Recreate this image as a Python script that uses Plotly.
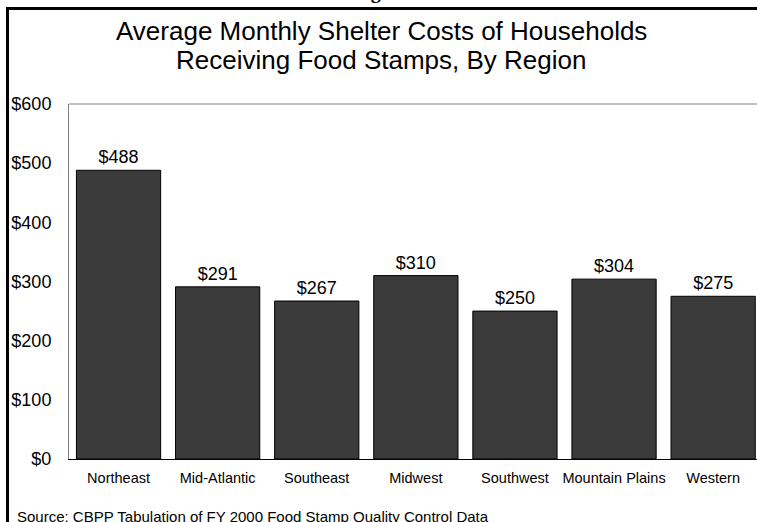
import plotly.graph_objects as go

regions = ["Northeast", "Mid-Atlantic", "Southeast", "Midwest", "Southwest", "Mountain Plains", "Western"]
costs = [488, 291, 267, 310, 250, 304, 275]
y_ticks = [0, 100, 200, 300, 400, 500, 600]
y_tick_labels = ["$0", "$100", "$200", "$300", "$400", "$500", "$600"]
bar_labels = ["$" + str(v) for v in costs]

title_lines = ["Average Monthly Shelter Costs of Households", "Receiving Food Stamps, By Region"]
source_note = "Source: CBPP Tabulation of FY 2000 Food Stamp Quality Control Data"
figure_label = "Figure 3"

W, H = 757, 522
# plot area in pixels
L, T, B = 69, 104, 459
R = W
pw, ph = R - L, B - T


def px(x):
    return (x - L) / pw


def py(y):
    return (B - y) / ph


font = "Liberation Sans, Arial, sans-serif"

fig = go.Figure(go.Bar(
    x=regions, y=costs,
    marker=dict(color="#3b3b3b", line=dict(color="#000000", width=1)),
    text=bar_labels, textposition="outside", cliponaxis=False,
    textfont=dict(size=18, color="black", family=font),
    constraintext="none",
))

fig.update_layout(
    width=W, height=H,
    margin=dict(l=L, r=W - R, t=T, b=H - B, pad=0),
    paper_bgcolor="white", plot_bgcolor="white",
    showlegend=False, bargap=0.15,
    font=dict(family=font, color="black"),
)

fig.update_xaxes(
    range=[-0.5, -0.5 + pw / 99.1], showgrid=False, showline=True,
    linecolor="black", linewidth=1, ticks="", ticklabelstandoff=6,
    tickfont=dict(size=14.5, color="black"), fixedrange=True,
)
fig.update_yaxes(
    range=[0, 600], tickvals=y_ticks, ticktext=y_tick_labels,
    showgrid=False, zeroline=False, showline=True, linecolor="#808080",
    linewidth=1, ticks="", ticklabelstandoff=13,
    tickfont=dict(size=18, color="black"), fixedrange=True,
)

# top edge of the plot frame
fig.add_shape(type="line", xref="paper", yref="paper", x0=0, x1=1, y0=1, y1=1,
              line=dict(color="#808080", width=1))

# outer page border (left and top)
fig.add_shape(type="line", xref="paper", yref="paper", x0=px(7.5), x1=px(7.5), y0=py(8.5), y1=py(530),
              line=dict(color="black", width=3))
fig.add_shape(type="line", xref="paper", yref="paper", x0=px(6), x1=px(W + 5), y0=py(8.5), y1=py(8.5),
              line=dict(color="black", width=3))

fig.add_annotation(text=title_lines[0], x=px(381), y=py(31), xref="paper", yref="paper",
                   xanchor="center", yanchor="middle", showarrow=False,
                   font=dict(size=26, color="black", family=font))
fig.add_annotation(text=title_lines[1], x=px(381), y=py(60), xref="paper", yref="paper",
                   xanchor="center", yanchor="middle", showarrow=False,
                   font=dict(size=26, color="black", family=font))
fig.add_annotation(text=source_note, x=px(15), y=py(516), xref="paper", yref="paper",
                   xanchor="left", yanchor="middle", showarrow=False,
                   font=dict(size=15, color="black", family=font))
# heading of the page above the chart, only its lower edge is in view
fig.add_annotation(text="<b>" + figure_label + "</b>", x=px(388), y=py(-8), xref="paper", yref="paper",
                   xanchor="center", yanchor="middle", showarrow=False,
                   font=dict(size=20, color="black", family="Liberation Serif, Times New Roman, serif"))

# the page body has a default margin, drop it so the figure sits at the window corner
fig.write_html("out.html", config={"displayModeBar": False},
               post_script="document.body.style.margin='0';")
